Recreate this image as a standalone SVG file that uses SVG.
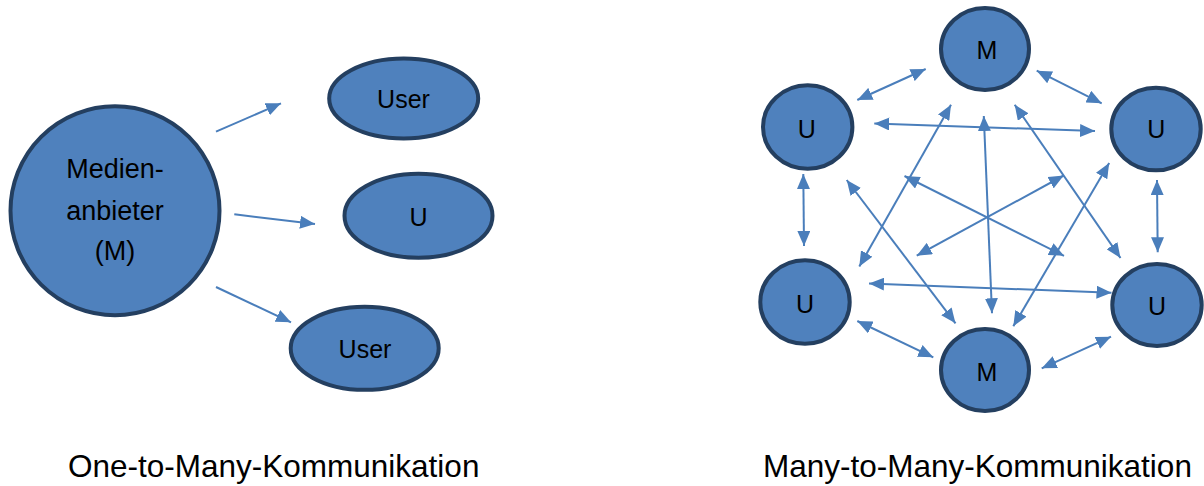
<svg xmlns="http://www.w3.org/2000/svg" width="1204" height="486" viewBox="0 0 1204 486">
<defs>
<style>
.node{fill:#4f81bd;stroke:#243f60;stroke-width:4}
.lbl{font-family:"Liberation Sans",Arial,sans-serif;font-size:25px;fill:#000;text-anchor:middle}
.big{font-size:27px}
.cap{font-family:"Liberation Sans",Arial,sans-serif;font-size:31.5px;fill:#000}
.arr{stroke:#4a7ebb;stroke-width:2;fill:none;marker-end:url(#ah)}
.dbl{stroke:#4a7ebb;stroke-width:2;fill:none;marker-start:url(#ah);marker-end:url(#ah)}
</style>
<marker id="ah" viewBox="0 0 15 13" refX="15" refY="6.5" markerWidth="15" markerHeight="13" markerUnits="userSpaceOnUse" orient="auto-start-reverse">
<path d="M0,0 L15,6.5 L0,13 z" fill="#4a7ebb"/>
</marker>
</defs>
<rect width="1204" height="486" fill="#fff"/>

<g id="left-nodes">
<g id="medienanbieter">
<circle class="node" cx="115" cy="210.7" r="104.5"/>
<text class="lbl big" x="115" y="178">Medien-</text>
<text class="lbl big" x="115" y="219.5">anbieter</text>
<text class="lbl big" x="115" y="260">(M)</text>
</g>
<g id="user-top">
<ellipse class="node" cx="403.7" cy="98.5" rx="74.5" ry="40"/>
<text class="lbl" x="403.5" y="108">User</text>
</g>
<g id="u-mid">
<ellipse class="node" cx="418.5" cy="215.8" rx="74" ry="42"/>
<text class="lbl" x="418.5" y="226">U</text>
</g>
<g id="user-bottom">
<ellipse class="node" cx="364.7" cy="348.3" rx="74" ry="41.5"/>
<text class="lbl" x="365" y="357.7">User</text>
</g>
</g>

<g id="left-connectors">
<line class="arr" x1="216" y1="131.7" x2="281" y2="103.3"/>
<line class="arr" x1="234.3" y1="214.3" x2="315" y2="224"/>
<line class="arr" x1="216" y1="287" x2="291" y2="322.3"/>
</g>

<g id="right-nodes">
<g id="m-top">
<ellipse class="node" cx="985" cy="49" rx="44" ry="41"/>
<text class="lbl" x="987" y="59.3">M</text>
</g>
<g id="u-tl">
<ellipse class="node" cx="807.7" cy="127" rx="44.7" ry="41.7"/>
<text class="lbl" x="806.7" y="138.3">U</text>
</g>
<g id="u-tr">
<ellipse class="node" cx="1156" cy="129" rx="44.7" ry="41.3"/>
<text class="lbl" x="1156.3" y="138.3">U</text>
</g>
<g id="u-bl">
<ellipse class="node" cx="805" cy="302" rx="44.7" ry="41.7"/>
<text class="lbl" x="805" y="313.3">U</text>
</g>
<g id="u-br">
<ellipse class="node" cx="1157" cy="305" rx="44.7" ry="41"/>
<text class="lbl" x="1157" y="315">U</text>
</g>
<g id="m-bottom">
<ellipse class="node" cx="985" cy="370" rx="44" ry="41"/>
<text class="lbl" x="987" y="380.7">M</text>
</g>
</g>

<g id="right-connectors">
<line class="dbl" x1="857.3" y1="100" x2="925.7" y2="69"/>
<line class="dbl" x1="1036.7" y1="70.7" x2="1101.7" y2="103.3"/>
<line class="dbl" x1="874.3" y1="123.5" x2="1095" y2="131"/>
<line class="dbl" x1="803.3" y1="174" x2="804" y2="246"/>
<line class="dbl" x1="1157" y1="180" x2="1157.7" y2="252.3"/>
<line class="dbl" x1="869" y1="283.5" x2="1111.5" y2="292.7"/>
<line class="dbl" x1="857.3" y1="321" x2="933.3" y2="357.3"/>
<line class="dbl" x1="1111" y1="336.7" x2="1041.7" y2="368.3"/>
<line class="dbl" x1="983.8" y1="116" x2="992" y2="313.3"/>
<line class="dbl" x1="951" y1="104.7" x2="859.3" y2="266.5"/>
<line class="dbl" x1="1014.7" y1="104.7" x2="1120.5" y2="258"/>
<line class="dbl" x1="846.7" y1="180" x2="955.5" y2="323.3"/>
<line class="dbl" x1="1109.2" y1="163" x2="1013.3" y2="326.3"/>
<line class="dbl" x1="904.5" y1="176" x2="1064" y2="255.8"/>
<line class="dbl" x1="1063.7" y1="175.5" x2="916.7" y2="255.7"/>
</g>

<g id="captions">
<text class="cap" x="68" y="477">One-to-Many-Kommunikation</text>
<text class="cap" x="763" y="477">Many-to-Many-Kommunikation</text>
</g>
</svg>
